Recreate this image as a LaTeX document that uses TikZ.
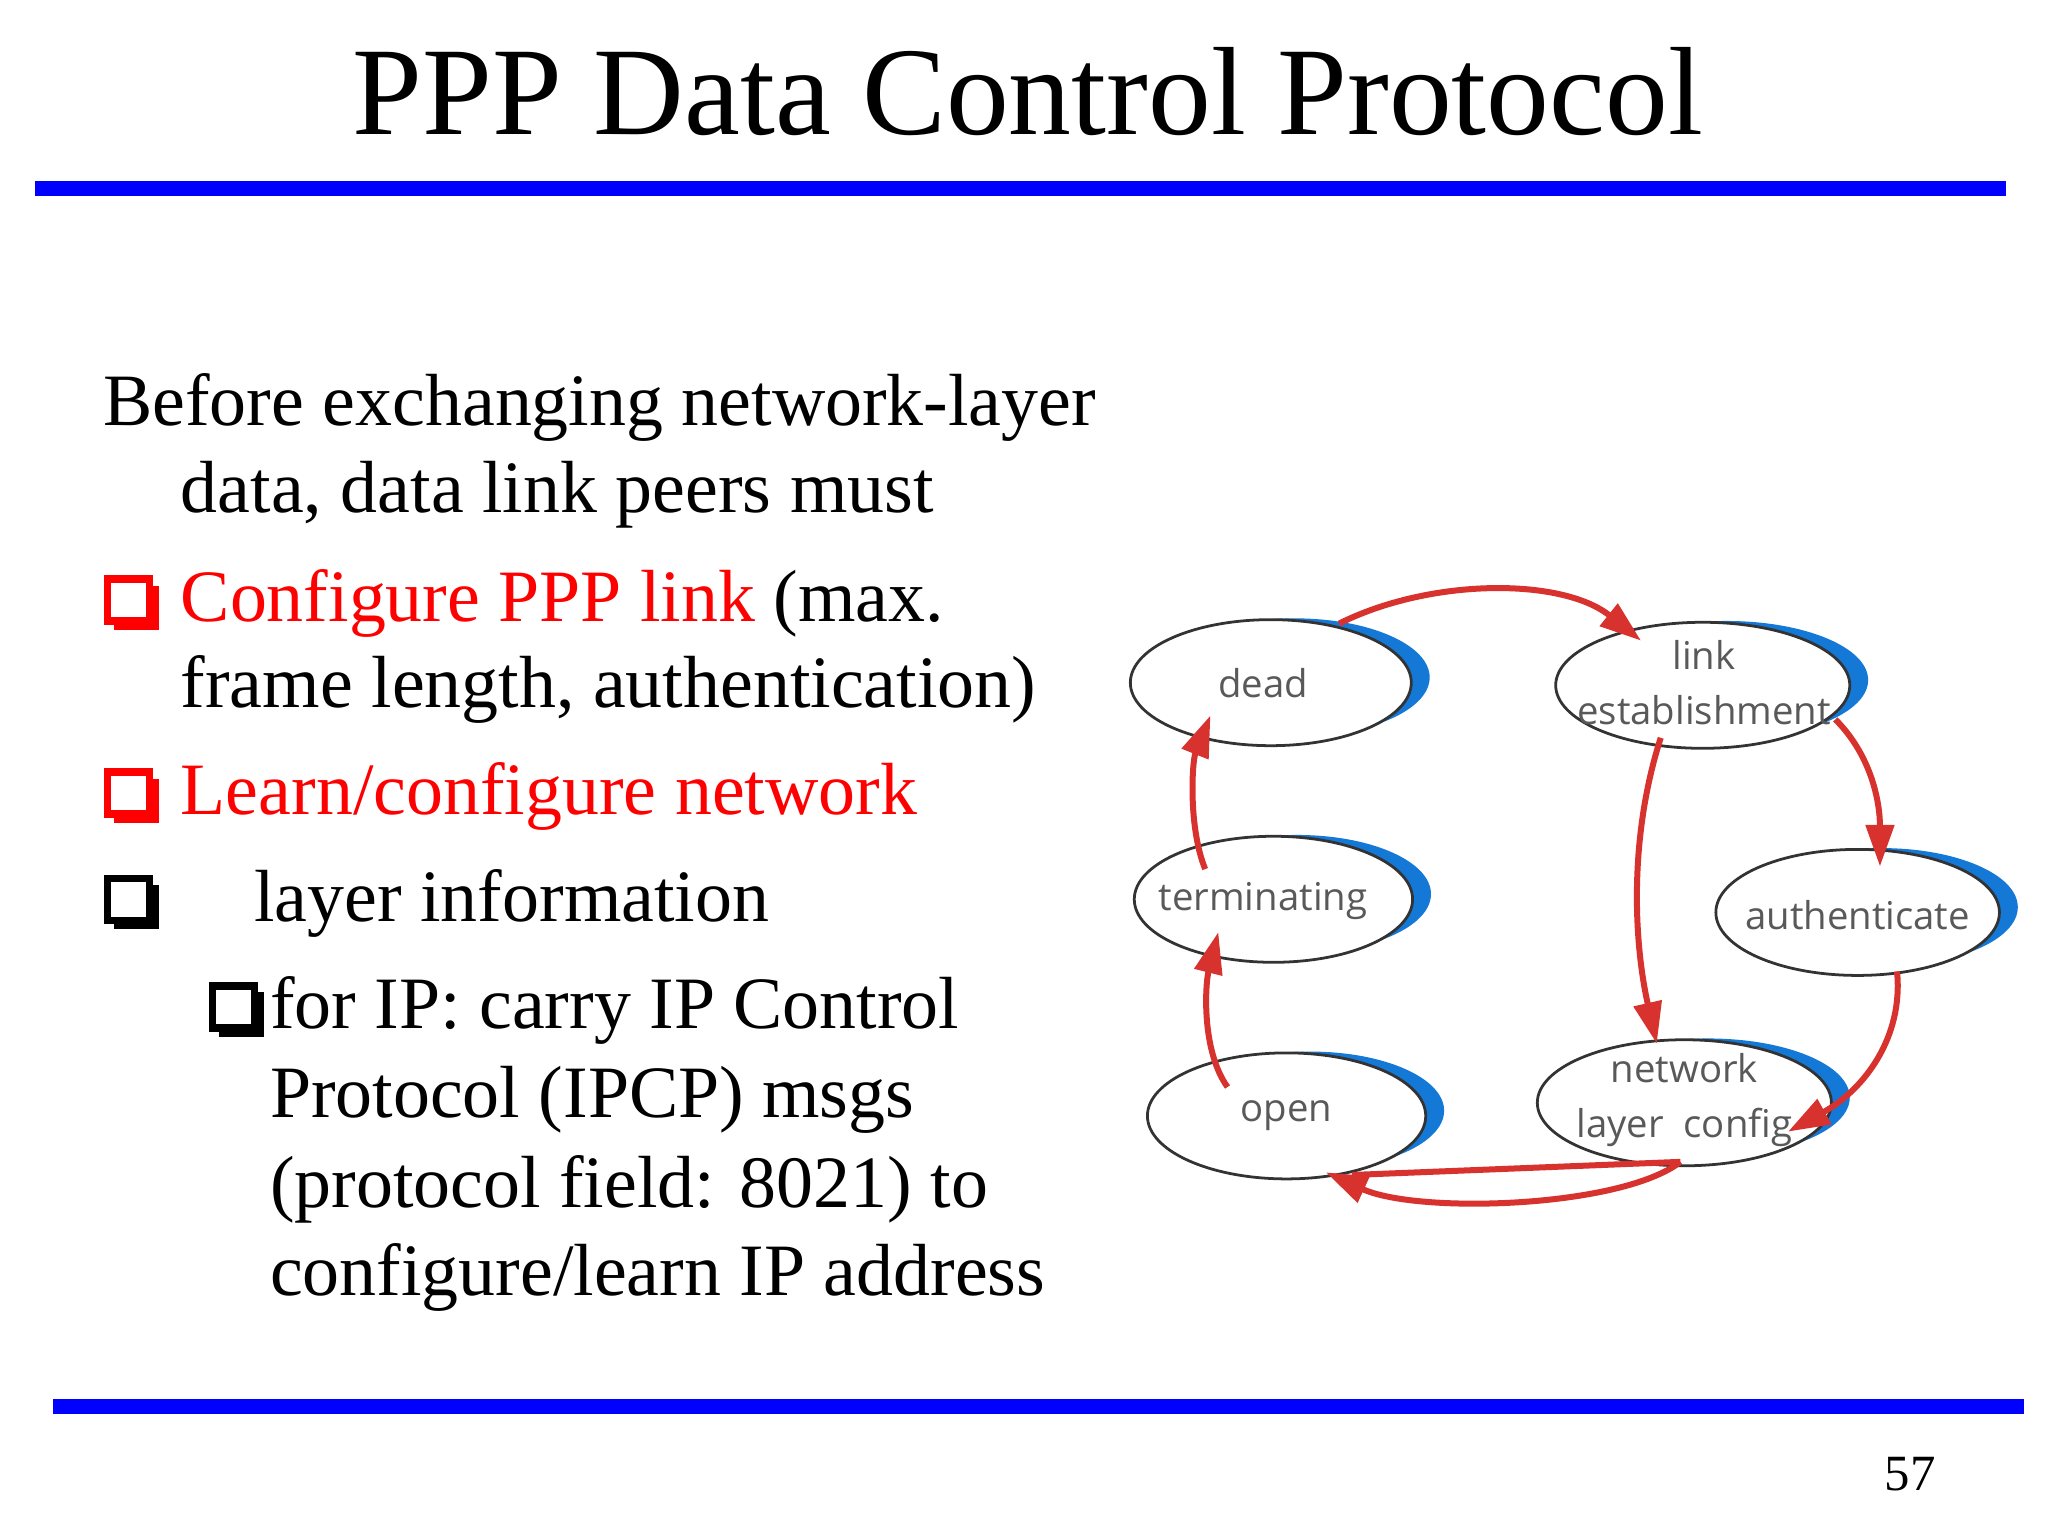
\documentclass[tikz,border=0pt]{standalone}
\usepackage{fontspec}
\setmainfont{Liberation Serif}
\newfontfamily\lblfont{Open Sans}
\usetikzlibrary{shapes.geometric,arrows.meta,calc}
\definecolor{ppblue}{RGB}{0,0,255}
\definecolor{crescent}{RGB}{20,120,215}
\definecolor{arr}{RGB}{215,50,45}
\tikzset{
  st/.style={inner sep=0pt,font=\lblfont\fontsize{8.3}{10}\selectfont,text=black!65,align=center},
  body/.style={anchor=west,inner sep=0pt,font=\fontsize{16}{20}\selectfont},
  ar/.style={draw=arr,line width=1.3pt,-{Triangle[length=9pt,width=6pt]}},
}
\newcommand{\qb}[3]{%
  \fill[#3] (#1+5,#2-12) rectangle (#1+39,#2+22);
  \fill[white] (#1,#2-17) rectangle (#1+32,#2+15);
  \draw[#3,line width=1.6pt] (#1,#2-17) rectangle (#1+32,#2+15);}
\newcommand{\stell}[3]{%
  \fill[crescent] (#1+18,#2-4) ellipse [x radius=#3-4, y radius=45];
  \fill[white] (#1,#2) ellipse [x radius=#3, y radius=48];
  \draw[black!80,line width=0.6pt] (#1,#2) ellipse [x radius=#3, y radius=48];}
\begin{document}
\begin{tikzpicture}[x=0.01cm,y=-0.01cm]
\useasboundingbox (0,0) rectangle (1560,1170);
\fill[white] (0,0) rectangle (1560,1170);
\node (title) at (783,70) [inner sep=0pt,font=\fontsize{27.2}{30}\selectfont] {PPP Data Control Protocol};
\fill[ppblue] (27,138) rectangle (1528,149);
\fill[ppblue] (40,1066) rectangle (1542,1077);
\node (pg) at (1455,1123) [inner sep=0pt,font=\fontsize{11}{12}\selectfont] {57};

\node[body] (l1) at (78,310) {Before exchanging network-layer};
\node[body] (l2) at (137,377) {data, data link peers must};
\qb{82}{458}{red}
\node[body] (l3) at (137,460) {\textcolor{red}{Configure PPP link} (max.};
\node[body] (l4) at (137,525) {frame length, authentication)};
\qb{82}{605}{red}
\node[body] (l5) at (137,607) {\textcolor{red}{Learn/configure network}};
\qb{82}{686}{black}
\node[body] (l6) at (193,688) {layer information};
\qb{162}{768}{black}
\node[body] (l7) at (205,770) {for IP: carry IP Control};
\node[body] (l8) at (205,838) {Protocol (IPCP) msgs};
\node[body] (l9) at (205,906) {(protocol field: 8021) to};
\node[body] (l10) at (205,973) {configure/learn IP address};

\stell{968}{520}{107}
\stell{1297}{522}{112}
\stell{970}{685}{106}
\stell{1415}{695}{108}
\stell{980}{850}{106}
\stell{1283}{840}{112}
\node[st] (dead) at (962,520) {dead};
\node[st] (link) at (1298,520) {link\\[2pt]establishment};
\node[st] (term) at (962,686) {terminating};
\node[st] (auth) at (1415,697) {authenticate};
\node[st] (open) at (980,850) {open};
\node[st] (net) at (1283,838) {network\\[2pt]layer\ \ config};

\coordinate (a1) at (1020,475); \coordinate (a2) at (1250,488);
\coordinate (b1) at (1398,548); \coordinate (b2) at (1432,660);
\coordinate (c1) at (1445,740); \coordinate (c2) at (1362,862);
\coordinate (d1) at (1265,562); \coordinate (d2) at (1262,795);
\coordinate (e1) at (1280,885); \coordinate (e2) at (1010,893);
\coordinate (f1) at (935,828);  \coordinate (f2) at (928,710);
\coordinate (g1) at (918,662);  \coordinate (g2) at (922,545);

\draw[ar] (a1) .. controls (1090,440) and (1190,440) .. (a2);
\draw[ar] (b1) .. controls (1425,575) and (1432,610) .. (b2);
\draw[ar] (c1) .. controls (1450,790) and (1420,830) .. (c2);
\draw[ar] (d1) .. controls (1240,640) and (1245,720) .. (d2);
\draw[ar] (e1) .. controls (1235,920) and (1080,925) .. (e2);
\draw[arr,line width=1.3pt] (e1) -- (1030,895);
\draw[ar] (f1) .. controls (915,800) and (918,750) .. (f2);
\draw[ar] (g1) .. controls (905,630) and (908,580) .. (g2);
\end{tikzpicture}
\end{document}
